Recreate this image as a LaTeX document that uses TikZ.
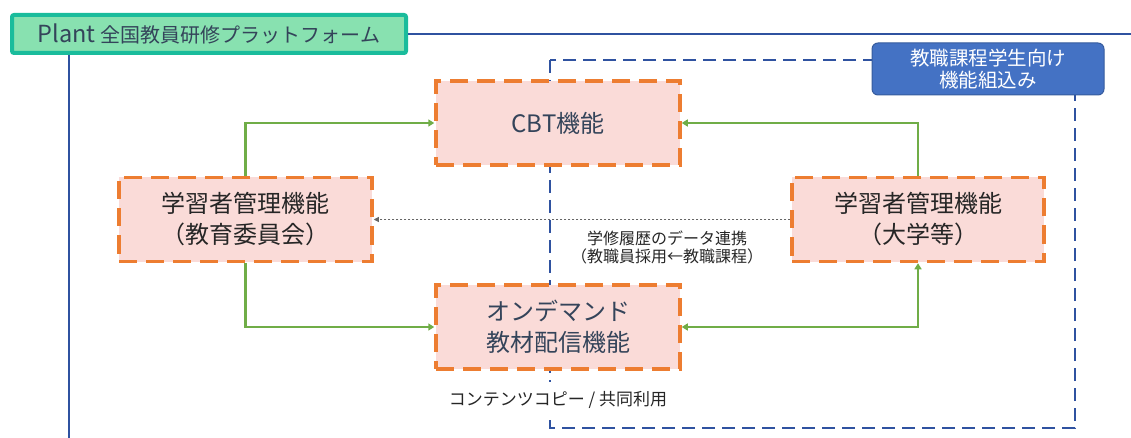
\documentclass[tikz,border=0pt]{standalone}
\usepackage{fontspec}
\setmainfont{Noto Sans CJK JP}
\usetikzlibrary{arrows.meta}
\definecolor{plantfill}{RGB}{136,225,176}
\definecolor{plantdraw}{RGB}{26,188,156}
\definecolor{linkblue}{RGB}{47,82,160}
\definecolor{boxfill}{RGB}{250,219,216}
\definecolor{boxdraw}{RGB}{237,125,49}
\definecolor{flowgreen}{RGB}{112,173,71}
\definecolor{infoblue}{RGB}{68,114,196}
\definecolor{slate}{RGB}{52,68,90}
\tikzset{
  x=1pt, y=-1pt,
  funcbox/.style={draw=boxdraw, fill=boxfill, line width=3.5pt, dash pattern=on 18pt off 9pt, minimum width=244pt, minimum height=84pt, align=center, inner sep=0pt, font=\fontsize{24}{31}\selectfont},
  flow/.style={draw=flowgreen, line width=2.2pt, -{Triangle[length=6pt,width=7pt]}},
  flowboth/.style={draw=flowgreen, line width=2.2pt, {Triangle[length=6pt,width=7pt]}-{Triangle[length=6pt,width=7pt]}},
  smalltext/.style={font=\fontsize{16}{18}\selectfont, align=center, text=black!85},
}
\begin{document}
\begin{tikzpicture}
\useasboundingbox (0,0) rectangle (1131,438);
% platform lines
\coordinate (hlineend) at (1131,34);
\coordinate (vlinestart) at (69,55);
\coordinate (vlineend) at (69,438);
\draw[linkblue, line width=1.5pt] (vlinestart) -- (vlineend);
% dashed region
\draw[linkblue, line width=1.6pt, dash pattern=on 13pt off 7pt] (550,60) rectangle (1075,428);
% plant box
\node[draw=plantdraw, fill=plantfill, line width=4pt, rounded corners=2pt, minimum width=394pt, minimum height=38pt, inner sep=0pt, text=slate] (plant) at (209,34) {\fontsize{23.5}{26}\selectfont Plant\ \fontsize{20}{22}\selectfont 全国教員研修プラットフォーム};
\draw[linkblue, line width=1.5pt] (plant.east) -- (hlineend);
% info box
\node[draw=infoblue!80!black, fill=infoblue, line width=1pt, rounded corners=6pt, minimum width=232pt, minimum height=52pt, inner sep=0pt, align=center, text=white, font=\fontsize{19.5}{22}\selectfont] (info) at (988,69) {教職課程学生向け\\機能組込み};
% function boxes
\node[funcbox, text=slate] (cbt) at (558,123) {CBT機能};
\node[funcbox, minimum width=253pt, text=black!85] (left) at (245.5,219.5) {学習者管理機能\\（教育委員会）};
\node[funcbox, minimum width=252pt, text=black!85] (right) at (918,219.5) {学習者管理機能\\（大学等）};
\node[funcbox, text=slate] (ond) at (558,327) {オンデマンド\\教材配信機能};
% arrows
\draw[flow] (left.north) |- (cbt.west);
\draw[flow] (right.north) |- (cbt.east);
\draw[flow] (left.south) |- (ond.west);
\draw[flowboth] (ond.east) -| (right.south);
\draw[gray!80!black, line width=0.8pt, dash pattern=on 2pt off 2pt, -{Triangle[length=5pt,width=5pt]}] (right.west) -- (left.east);
% labels
\node[smalltext] (histlabel) at (667,247) {学修履歴のデータ連携\\（教職員採用←教職課程）};
\node[smalltext, font=\fontsize{17}{20}\selectfont, fill=white, inner ysep=9pt, inner xsep=4pt] (copylabel) at (558,400) {コンテンツコピー / 共同利用};
\end{tikzpicture}
\end{document}
